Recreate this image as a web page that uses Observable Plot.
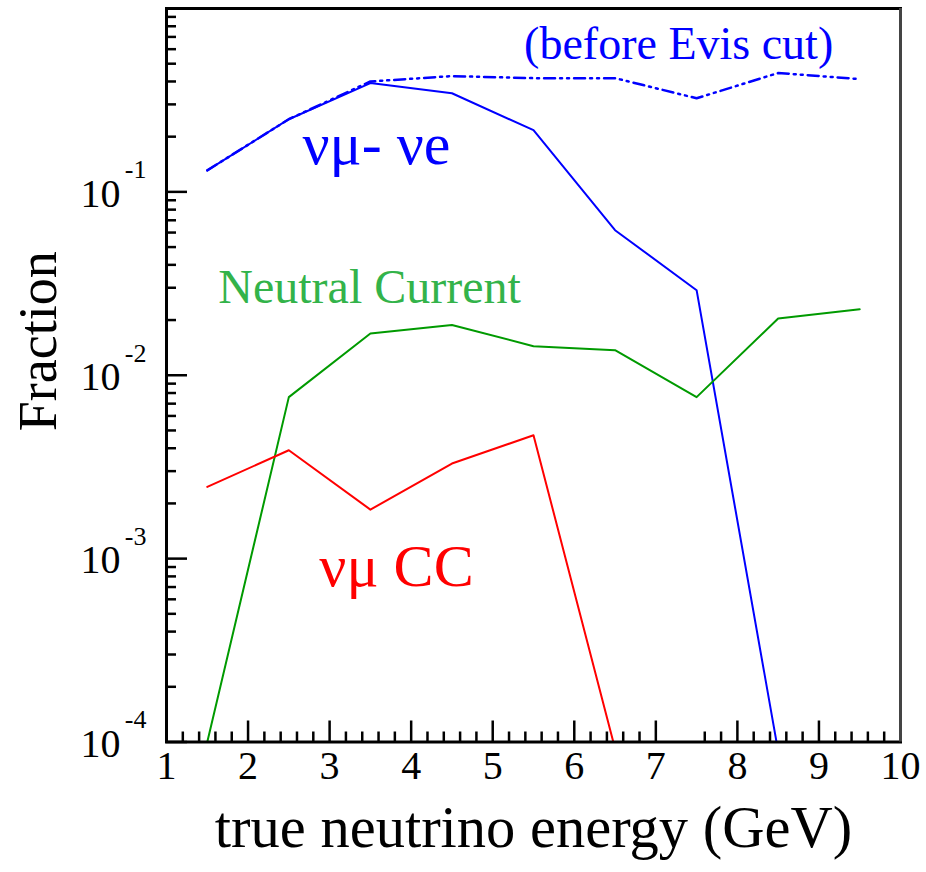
<!DOCTYPE html>
<html><head><meta charset="utf-8">
<script src="https://cdn.jsdelivr.net/npm/d3@7"></script>
<script src="https://cdn.jsdelivr.net/npm/@observablehq/plot@0.6"></script>
<style>body{margin:0;background:#fff;} svg{display:block;} svg text{font-family:'Liberation Serif','Times New Roman',serif;}</style>
</head><body><div id="chart"></div>
<script>
// ---- data ----
const energy = [1.5, 2.5, 3.5, 4.5, 5.5, 6.5, 7.5, 8.5, 9.5];
const numuNue = [0.131, 0.249, 0.392, 0.345, 0.217, 0.0618, 0.0291, 8.9e-5];
const numuNueBeforeCut = [0.131, 0.249, 0.400, 0.428, 0.417, 0.417, 0.324, 0.445, 0.412];
const neutralCurrent = [1.0e-4, 0.0076, 0.0169, 0.0188, 0.0144, 0.0137, 0.0076, 0.0204, 0.0229];
const numuCC = [0.00246, 0.0039, 0.00185, 0.0033, 0.00471, 9.2e-5];

const xTicks = [1, 2, 3, 4, 5, 6, 7, 8, 9, 10];
const xTickLabels = ["1", "2", "3", "4", "5", "6", "7", "8", "9", "10"];
const xMinorTicks = d3.range(1, 10.001, 0.2).map(v => +v.toFixed(1))
  .filter(v => !Number.isInteger(v) && v !== 7.2 && v !== 7.4);
const yTicks = [1e-4, 1e-3, 1e-2, 1e-1];
const yTickExponents = ["-4", "-3", "-2", "-1"];
const yMinorTicks = [];
for (const dec of [1e-4, 1e-3, 1e-2, 1e-1]) for (let m = 2; m <= 9; m++) yMinorTicks.push(m * dec);

const annotations = [
  {text: "(before Evis cut)", e: 7.28, f: 0.64, color: "#0000ff", size: 46, anchor: "middle"},
  {text: "νμ- νe", e: 2.667, f: 0.181, color: "#0000ff", size: 60, anchor: "start"},
  {text: "Neutral Current", e: 3.49, f: 0.030, color: "#33b34a", size: 48, anchor: "middle"},
  {text: "νμ CC", e: 3.82, f: 0.000904, color: "#ff0000", size: 60, anchor: "middle"}
];

const rows = vals => vals.map((v, i) => ({e: energy[i], v}));

// ---- layout ----
const W = 926, H = 872;
const mL = 166, mR = 26, mT = 8, mB = 130.5;
const innerW = W - mL - mR, innerH = H - mT - mB;
const serif = "Liberation Serif";

const chart = Plot.plot({
  width: W, height: H,
  marginLeft: mL, marginRight: mR, marginTop: mT, marginBottom: mB,
  x: {domain: [1, 10], axis: null},
  y: {type: "log", domain: [1e-4, 1], axis: null},
  style: {fontFamily: "'Liberation Serif', 'Times New Roman', serif", background: "#fff", overflow: "visible"},
  marks: [
    Plot.line(rows(numuNueBeforeCut), {x: "e", y: "v", stroke: "#0000ff", strokeWidth: 2.5,
      strokeDasharray: "11,5,2,5,2,5", clip: true}),
    Plot.line(rows(numuNue), {x: "e", y: "v", stroke: "#0000ff", strokeWidth: 2, clip: true}),
    Plot.line(rows(neutralCurrent), {x: "e", y: "v", stroke: "#009a00", strokeWidth: 2, clip: true}),
    Plot.line(rows(numuCC), {x: "e", y: "v", stroke: "#ff0000", strokeWidth: 2, clip: true}),
    // ticks (inward)
    Plot.ruleX(xTicks, {x: d => d, insetTop: innerH - 21, stroke: "#000", strokeWidth: 2.5}),
    Plot.ruleX(xMinorTicks, {x: d => d, insetTop: innerH - 10, stroke: "#000", strokeWidth: 2.5}),
    Plot.ruleY(yTicks, {y: d => d, insetRight: innerW - 21, stroke: "#000", strokeWidth: 2.5}),
    Plot.ruleY(yMinorTicks, {y: d => d, insetRight: innerW - 10, stroke: "#000", strokeWidth: 2.5}),
    // frame
    Plot.frame({stroke: "#000", strokeWidth: 3}),
    Plot.ruleX([10], {stroke: "#444", strokeWidth: 3}),
    // tick labels
    Plot.text(xTicks, {x: d => d, text: (d, i) => xTickLabels[i], frameAnchor: "bottom", dy: 37, fontSize: 40, fontFamily: serif, fill: "#000"}),
    Plot.text(yTicks, {y: d => d, text: () => "10", frameAnchor: "left", textAnchor: "end", dx: -46, dy: 2, fontSize: 40, fontFamily: serif, fill: "#000"}),
    Plot.text(yTicks, {y: d => d, text: (d, i) => yTickExponents[i], frameAnchor: "left", textAnchor: "end", dx: -20, dy: -22, fontSize: 26, fontFamily: serif, fill: "#000"}),
    // axis titles
    Plot.text(["true neutrino energy (GeV)"], {text: d => d, frameAnchor: "bottom", dy: 105, fontSize: 58.5, fontFamily: serif, fill: "#000"}),
    Plot.text(["Fraction"], {text: d => d, frameAnchor: "left", rotate: -90, dx: -128, dy: 56, fontSize: 54, fontFamily: serif, fill: "#000"}),
    // annotations (one mark each, constant styles)
    ...annotations.map(a => Plot.text([a], {x: "e", y: "f", text: "text", fill: a.color,
      fontSize: a.size, fontFamily: serif, textAnchor: a.anchor}))
  ]
});
document.getElementById("chart").append(chart);
</script>
</body></html>
